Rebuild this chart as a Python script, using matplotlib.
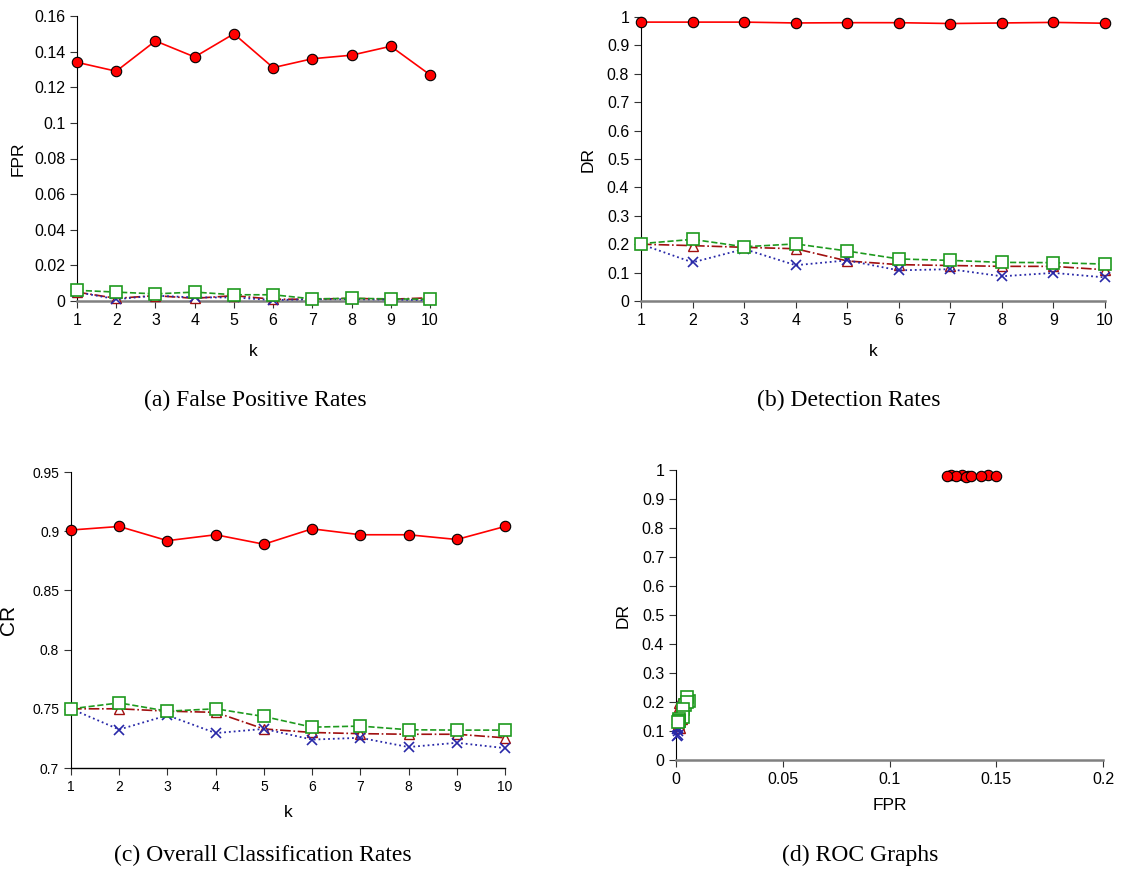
import numpy as np
import matplotlib.pyplot as plt

plt.rcParams['font.family'] = ['Liberation Sans', 'DejaVu Sans']

k = [1, 2, 3, 4, 5, 6, 7, 8, 9, 10]

# false positive rates
fpr_circle = [0.134, 0.129, 0.146, 0.137, 0.150, 0.131, 0.136, 0.138, 0.143, 0.127]
fpr_square = [0.006, 0.005, 0.004, 0.005, 0.0035, 0.0035, 0.0012, 0.0015, 0.0012, 0.001]
fpr_triangle = [0.005, 0.0015, 0.003, 0.0015, 0.003, 0.001, 0.001, 0.0015, 0.001, 0.0018]
fpr_cross = [0.005, 0.001, 0.003, 0.002, 0.002, 0.0005, 0.001, 0.001, 0.0008, 0.0005]

# detection rates
dr_circle = [0.982, 0.982, 0.982, 0.979, 0.980, 0.980, 0.977, 0.979, 0.981, 0.978]
dr_square = [0.202, 0.217, 0.191, 0.201, 0.176, 0.148, 0.143, 0.136, 0.135, 0.130]
dr_triangle = [0.200, 0.195, 0.189, 0.184, 0.141, 0.128, 0.125, 0.122, 0.122, 0.110]
dr_cross = [0.200, 0.136, 0.183, 0.126, 0.143, 0.108, 0.112, 0.087, 0.099, 0.083]

# overall classification rates
cr_circle = [0.901, 0.904, 0.892, 0.897, 0.889, 0.902, 0.897, 0.897, 0.893, 0.904]
cr_square = [0.750, 0.755, 0.748, 0.750, 0.7435, 0.7345, 0.7354, 0.7323, 0.732, 0.732]
cr_triangle = [0.750, 0.750, 0.748, 0.747, 0.733, 0.730, 0.729, 0.7285, 0.7285, 0.7255]
cr_cross = [0.750, 0.7325, 0.7445, 0.7295, 0.733, 0.724, 0.7255, 0.7177, 0.7213, 0.7168]

captions = ['(a) False Positive Rates', '(b) Detection Rates',
            '(c) Overall Classification Rates', '(d) ROC Graphs']

RED = '#ff0000'
GREEN = '#1e9a1e'
DRED = '#a01010'
BLUE = '#2828a8'

styles = [
    dict(color=RED, ls='-', lw=1.2, marker='o', ms=7.5, mfc=RED, mec='black', mew=0.8),
    dict(color=DRED, ls='-.', lw=1.2, marker='^', ms=7.5, mfc='white', mec=DRED, mew=1.0),
    dict(color=BLUE, ls=':', lw=1.3, marker='x', ms=7.5, mfc='none', mec=BLUE, mew=1.2),
    dict(color=GREEN, ls='--', lw=1.2, marker='s', ms=8.5, mfc='white', mec=GREEN, mew=1.2),
]

fig = plt.figure(figsize=(11.26, 8.75), dpi=100)
W, H = 1126, 875


def make_ax(l, r, t, b):
    return fig.add_axes([l / W, (H - b) / H, (r - l) / W, (b - t) / H])


def style_ax(ax, fs):
    for s in ['top', 'right']:
        ax.spines[s].set_visible(False)
    ax.spines['left'].set_color('black')
    ax.spines['bottom'].set_color('#808080')
    ax.spines['bottom'].set_linewidth(1.8)
    ax.tick_params(direction='out', length=5, labelsize=fs, color='#333333')


def draw_series(ax, series):
    for ys, st in zip(series, styles):
        ax.plot(k, ys, clip_on=False, zorder=3, **st)


# (a)
ax = make_ax(77, 430, 16, 301)
draw_series(ax, [fpr_circle, fpr_triangle, fpr_cross, fpr_square])
ax.set_xlim(1, 10)
ax.set_ylim(0, 0.16)
ax.set_xticks(k)
ax.set_yticks(np.arange(0, 0.161, 0.02))
ax.set_yticklabels(['0', '0.02', '0.04', '0.06', '0.08', '0.1', '0.12', '0.14', '0.16'])
style_ax(ax, 11.5)
ax.set_xlabel('k', fontsize=12.5, labelpad=12)
ax.set_ylabel('FPR', fontsize=12.5, labelpad=6)

# (b)
ax = make_ax(641, 1105, 17, 301)
draw_series(ax, [dr_circle, dr_triangle, dr_cross, dr_square])
ax.set_xlim(1, 10)
ax.set_ylim(0, 1)
ax.set_xticks(k)
ax.set_yticks(np.arange(0, 1.01, 0.1))
ax.set_yticklabels(['0', '0.1', '0.2', '0.3', '0.4', '0.5', '0.6', '0.7', '0.8', '0.9', '1'])
style_ax(ax, 11.5)
ax.set_xlabel('k', fontsize=12.5, labelpad=12)
ax.set_ylabel('DR', fontsize=12.5, labelpad=8)

# (c)
ax = make_ax(71, 505, 472, 768)
draw_series(ax, [cr_circle, cr_triangle, cr_cross, cr_square])
ax.set_xlim(1, 10)
ax.set_ylim(0.7, 0.95)
ax.set_xticks(k)
ax.set_yticks([0.7, 0.75, 0.8, 0.85, 0.9, 0.95])
ax.set_yticklabels(['0.7', '0.75', '0.8', '0.85', '0.9', '0.95'])
style_ax(ax, 10)
ax.spines['bottom'].set_color('black')
ax.spines['bottom'].set_linewidth(1.0)
ax.set_xlabel('k', fontsize=12.5, labelpad=8)
ax.set_ylabel('CR', fontsize=15, labelpad=10)

# (d)
ax = make_ax(676, 1103, 470, 760)
for xs, ys, st in zip([fpr_circle, fpr_triangle, fpr_cross, fpr_square],
                      [dr_circle, dr_triangle, dr_cross, dr_square], styles):
    st2 = dict(st)
    st2['ls'] = 'none'
    ax.plot(xs, ys, clip_on=False, zorder=3, **st2)
ax.set_xlim(0, 0.2)
ax.set_ylim(0, 1)
ax.set_xticks([0, 0.05, 0.1, 0.15, 0.2])
ax.set_xticklabels(['0', '0.05', '0.1', '0.15', '0.2'])
ax.set_yticks(np.arange(0, 1.01, 0.1))
ax.set_yticklabels(['0', '0.1', '0.2', '0.3', '0.4', '0.5', '0.6', '0.7', '0.8', '0.9', '1'])
style_ax(ax, 11.5)
ax.set_xlabel('FPR', fontsize=12.5, labelpad=8)
ax.set_ylabel('DR', fontsize=12.5, labelpad=8)

cap_pos = [(255, 400), (849, 400), (263, 855), (860, 855)]
for (cx, cy), txt in zip(cap_pos, captions):
    fig.text(cx / W, (H - cy) / H, txt, ha='center', va='center',
             fontsize=17, family=['Liberation Serif', 'DejaVu Serif'])

fig.savefig('out.png', dpi=100)
